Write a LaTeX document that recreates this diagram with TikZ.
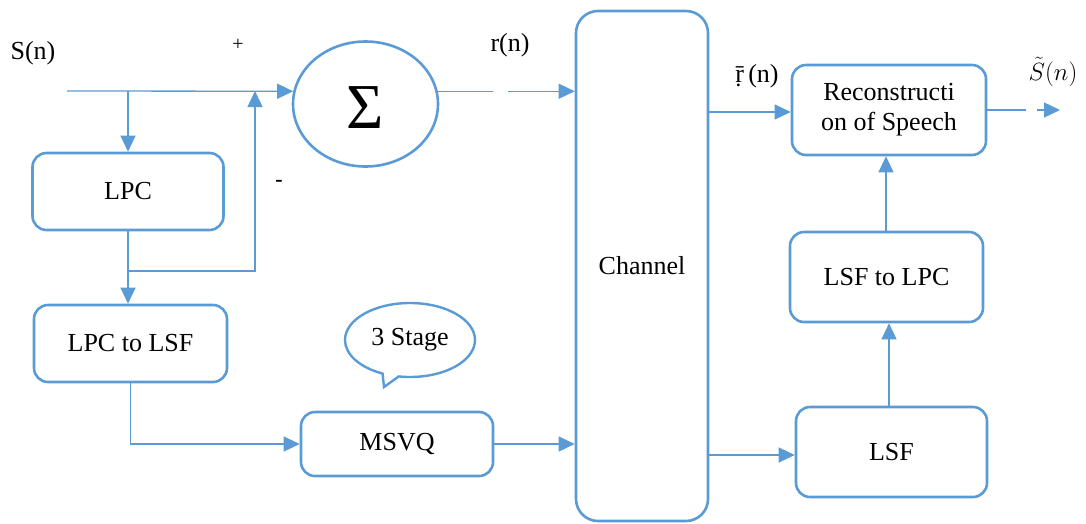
\documentclass[tikz,border=0pt]{standalone}
\usepackage{fontspec}
\setmainfont{Liberation Serif}
\usetikzlibrary{arrows.meta,shapes.geometric,shapes.callouts}
\definecolor{bl}{HTML}{5B9BD5}
\tikzset{
  box/.style={draw=bl, line width=2.6pt, rounded corners=14pt, align=center,
    inner sep=0pt, font=\fontsize{26}{30}\selectfont},
  conn/.style={draw=bl, line width=1.3pt, -{Triangle[length=16pt,width=15pt]}},
  line/.style={draw=bl, line width=1.3pt},
  lbl/.style={inner sep=0pt, font=\fontsize{26}{30}\selectfont},
}
\begin{document}
\begin{tikzpicture}[x=1pt,y=-1pt]
\useasboundingbox (0,0) rectangle (1086,523);
% nodes
\node[box, minimum width=191pt, minimum height=77pt] (lpc) at (128,191.5) {LPC};
\node[box, minimum width=193pt, minimum height=77pt] (l2l) at (130.5,343.5) {LPC to LSF};
\node[box, minimum width=192pt, minimum height=64pt] (msvq) at (397,444) {MSVQ};
\node[box, rounded corners=22pt, minimum width=132pt, minimum height=510pt] (ch) at (642,266) {Channel};
\node[box, minimum width=194pt, minimum height=90pt] (rec) at (889,110) {Reconstructi\\on of Speech};
\node[box, minimum width=193pt, minimum height=90pt] (l2p) at (886.5,277) {LSF to LPC};
\node[box, minimum width=191pt, minimum height=90pt] (lsf) at (891.5,452) {LSF};
\node[draw=bl, line width=2.6pt, ellipse, inner sep=0pt, minimum width=145pt, minimum height=125pt] (sig) at (365.5,104) {};
\node[inner sep=0pt, font=\fontsize{64}{64}\selectfont] (sigt) at (365.5,108) {Σ};
\node[draw=bl, line width=2.4pt, ellipse callout, inner sep=0pt, minimum width=130pt, minimum height=74pt,
  callout absolute pointer={(384,387)}, font=\fontsize{26}{30}\selectfont] (stage) at (410,340) {3 Stage};
% labels
\node[lbl] (sn) at (33,53) {S(n)};
\node[inner sep=0pt, font=\fontsize{20}{20}\selectfont] (plus) at (238,45) {+};
\node[inner sep=0pt, font=\fontsize{22}{22}\selectfont\bfseries] (minus) at (279,183) {-};
\node[lbl] (rn) at (510,45) {r(n)};
\node[lbl] (rbn) at (757,76) {\d{\=r}\,(n)};
\node[lbl] (sout) at (1053,72) {$\tilde{S}(n)$};
% coordinates
\coordinate (start) at (67,91);
\coordinate (br) at (128,271);
\coordinate (up) at (255,91);
\coordinate (out) at (1060,110);
% connectors
\draw[conn] (start) -- (sig.170);
\draw[conn] (lpc.north |- start) -- (lpc.north);
\draw[conn] (lpc.south) -- (lpc.south |- l2l.north);
\draw[conn] (br) -- (br -| up) -- (up);
\draw[conn] (l2l.south) |- (msvq.west);
\draw[conn] (msvq.east) -- (msvq.east -| ch.west);
\draw[conn, dash pattern=on 55.5pt off 15pt on 300pt] (sig.10) -- (sig.10 -| ch.west);
\draw[conn] (ch.east |- 0,112) -- (rec.west |- 0,112);
\draw[conn] (ch.east |- 0,455) -- (lsf.west |- 0,455);
\draw[conn] (lsf.north -| 889,0) -- (l2p.south -| 889,0);
\draw[conn] (l2p.north -| 886,0) -- (rec.south -| 886,0);
\draw[conn, dash pattern=on 39pt off 11pt on 300pt] (rec.east) -- (out);
\end{tikzpicture}
\end{document}
